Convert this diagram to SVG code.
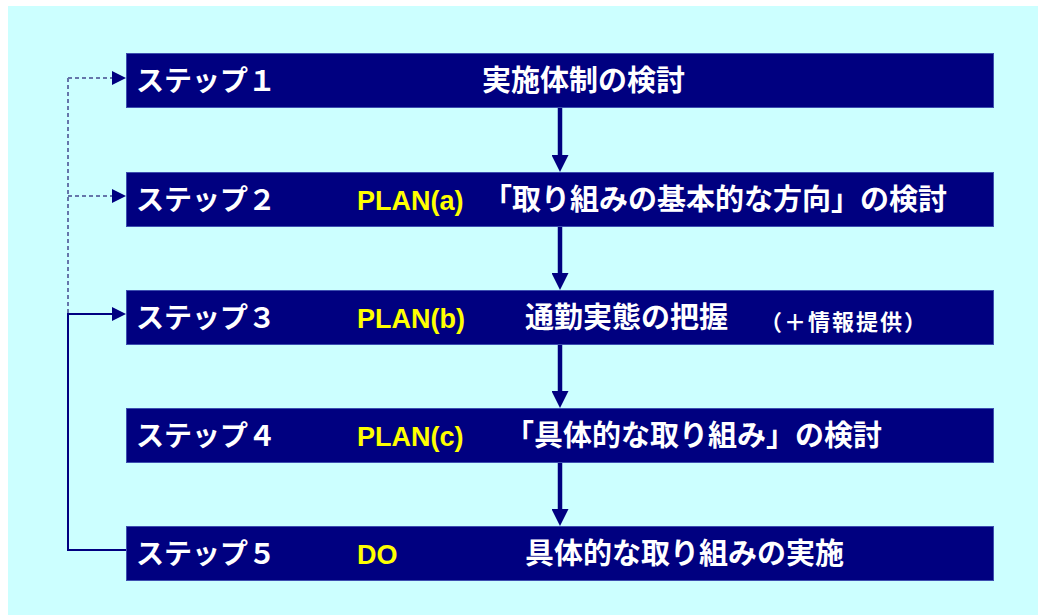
<svg xmlns="http://www.w3.org/2000/svg" width="1038" height="615" viewBox="0 0 1038 615">
<style>
.box{fill:#000080;stroke:#3d4fb0;stroke-width:1}
.lbl{font-family:"Noto Sans CJK JP","Noto Sans CJK SC",sans-serif;font-weight:bold;fill:#ffffff}
.step{font-size:28px}
.ttl{font-size:29px}
.sub{font-size:22px;letter-spacing:2px}
.plan{font-family:"Liberation Sans",Arial,sans-serif;font-weight:bold;font-size:27px;fill:#ffff00}
.flow{stroke:#000080;stroke-width:4.5;fill:none}
.fbd{stroke:#6676aa;stroke-width:2;stroke-dasharray:4 3;fill:none}
.fb{stroke:#000080;stroke-width:2;fill:none}
</style>
<defs>
<marker id="down" markerUnits="userSpaceOnUse" markerWidth="17" markerHeight="17" refX="9" refY="8.5" orient="auto"><path d="M0,0 L17,8.5 L0,17 Z" fill="#000080"/></marker>
<marker id="side" markerUnits="userSpaceOnUse" markerWidth="14" markerHeight="14" refX="6" refY="7" orient="auto"><path d="M0,0 L14,7 L0,14 Z" fill="#000080"/></marker>
</defs>
<rect x="8" y="6" width="1030" height="609" fill="#ccffff"/>
<g id="connectors">
<path class="flow" d="M560,107 V164" marker-end="url(#down)"/>
<path class="flow" d="M560,226 V282" marker-end="url(#down)"/>
<path class="flow" d="M560,344 V400" marker-end="url(#down)"/>
<path class="flow" d="M560,462 V518" marker-end="url(#down)"/>
<path class="fbd" d="M68,78 V314"/>
<path class="fbd" d="M68,78 H118" marker-end="url(#side)"/>
<path class="fbd" d="M68,196 H118" marker-end="url(#side)"/>
<path class="fb" d="M126,550 H68 V314 H118" marker-end="url(#side)"/>
</g>
<g id="step1">
<rect class="box" x="126.5" y="53.5" width="867" height="54"/>
<text class="lbl step" x="136" y="91">ステップ１</text>
<text class="lbl ttl" x="482" y="91">実施体制の検討</text>
</g>
<g id="step2">
<rect class="box" x="126.5" y="172.5" width="867" height="54"/>
<text class="lbl step" x="136" y="210">ステップ２</text>
<text class="plan" x="357" y="210">PLAN(a)</text>
<text class="lbl ttl" x="483" y="210">「取り組みの基本的な方向」の検討</text>
</g>
<g id="step3">
<rect class="box" x="126.5" y="290.5" width="867" height="54"/>
<text class="lbl step" x="136" y="328">ステップ３</text>
<text class="plan" x="357" y="328">PLAN(b)</text>
<text class="lbl ttl" x="525" y="328">通勤実態の把握</text>
<text class="lbl sub" x="760" y="330">（＋情報提供）</text>
</g>
<g id="step4">
<rect class="box" x="126.5" y="408.5" width="867" height="54"/>
<text class="lbl step" x="136" y="446">ステップ４</text>
<text class="plan" x="357" y="446">PLAN(c)</text>
<text class="lbl ttl" x="505" y="446">「具体的な取り組み」の検討</text>
</g>
<g id="step5">
<rect class="box" x="126.5" y="526.5" width="867" height="54"/>
<text class="lbl step" x="136" y="564">ステップ５</text>
<text class="plan" x="357" y="564">DO</text>
<text class="lbl ttl" x="525" y="564">具体的な取り組みの実施</text>
</g>
</svg>
